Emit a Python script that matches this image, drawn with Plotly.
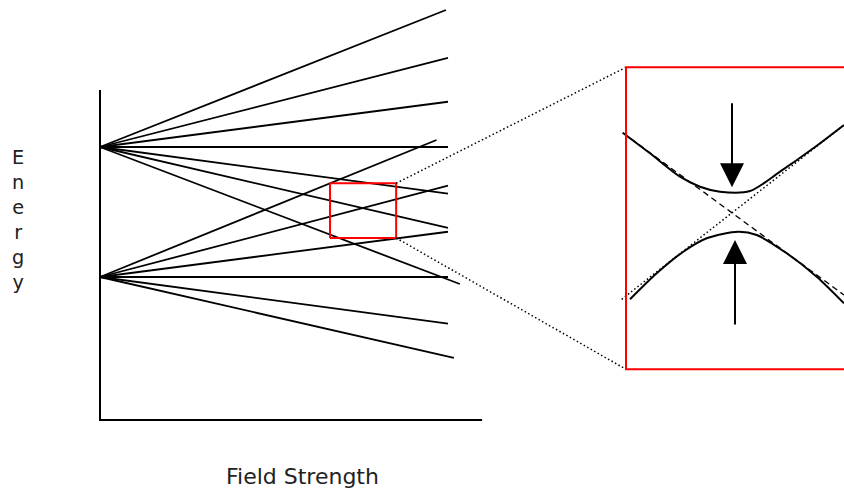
import plotly.graph_objects as go

# ---- Zeeman-style fan of levels (field strength vs energy) ----
upper_level = 1.0
lower_level = 0.0
upper_end_field = [0.994, 1.0, 1.0, 1.0, 1.0, 1.0, 1.034]
upper_end_energy = [2.054, 1.685, 1.348, 1.0, 0.641, 0.377, -0.054]
lower_end_field = [0.967, 1.0, 1.0, 1.0, 1.0, 1.017]
lower_end_energy = [1.054, 0.702, 0.348, 0.0, -0.359, -0.623]

field_axis_max = 1.098
energy_axis_min = -1.1
energy_axis_max = 1.438

# region highlighted for the close-up
zoom_field = [0.661, 0.851]
zoom_energy = [0.30, 0.721]

# ---- close-up of an avoided crossing ----
upper_branch_u = [-1.123, -0.85, -0.55, -0.35, -0.15, 0.15, 0.45, 0.783, 1.09]
upper_branch_v = [0.803, 0.597, 0.363, 0.263, 0.213, 0.22, 0.413, 0.647, 0.88]
lower_branch_u = [-1.05, -0.783, -0.517, -0.283, 0.033, 0.217, 0.517, 0.817, 1.09]
lower_branch_v = [-0.863, -0.603, -0.387, -0.253, -0.187, -0.22, -0.403, -0.637, -0.903]
falling_diabat_u = [-1.123, 1.09]
falling_diabat_v = [0.803, -0.82]
rising_diabat_u = [-1.133, 1.09]
rising_diabat_v = [-0.863, 0.88]
gap_top = [-0.03, 0.257, 1.113]      # u, arrow tip v, arrow tail v
gap_bottom = [0.0, -0.27, -1.13]
inset_frame_u = [-1.09, 1.2]
inset_frame_v = [-1.563, 1.457]

W, H = 844, 491
# main panel: pixel = origin + scale * value
X0, XS = 100.0, 348.0
Y0, YS = 277.0, 130.0
# inset panel
IX0, IXS = 735.0, 100.0
IY0, IYS = 213.0, 100.0
inset_u_range = [-1.2, 1.09]
inset_v_range = [-1.6, 1.5]


def inset_to_main(u, v):
    px = IX0 + IXS * u
    py = IY0 - IYS * v
    return (px - X0) / XS, (Y0 - py) / YS


BLACK = "#000000"
fig = go.Figure()

# fan lines
for f, e in zip(upper_end_field, upper_end_energy):
    fig.add_trace(go.Scatter(x=[0, f], y=[upper_level, e], mode="lines",
                             line=dict(color=BLACK, width=1.8)))
for f, e in zip(lower_end_field, lower_end_energy):
    fig.add_trace(go.Scatter(x=[0, f], y=[lower_level, e], mode="lines",
                             line=dict(color=BLACK, width=1.8)))

# hand-drawn axes
fig.add_trace(go.Scatter(x=[0, 0, field_axis_max],
                         y=[energy_axis_max, energy_axis_min, energy_axis_min],
                         mode="lines", line=dict(color=BLACK, width=2)))

# highlight box
fig.add_trace(go.Scatter(
    x=[zoom_field[0], zoom_field[1], zoom_field[1], zoom_field[0], zoom_field[0]],
    y=[zoom_energy[0], zoom_energy[0], zoom_energy[1], zoom_energy[1], zoom_energy[0]],
    mode="lines", line=dict(color="#ff0000", width=2)))

# connectors from the box to the close-up
tl = inset_to_main(inset_frame_u[0], inset_frame_v[1])
bl = inset_to_main(inset_frame_u[0], inset_frame_v[0])
fig.add_trace(go.Scatter(x=[zoom_field[1], tl[0]], y=[zoom_energy[1], tl[1]],
                         mode="lines", line=dict(color=BLACK, width=1.5, dash="1.5px,2.5px")))
fig.add_trace(go.Scatter(x=[zoom_field[1], bl[0]], y=[zoom_energy[0], bl[1]],
                         mode="lines", line=dict(color=BLACK, width=1.5, dash="1.5px,2.5px")))

# close-up traces
fig.add_trace(go.Scatter(x=falling_diabat_u, y=falling_diabat_v, mode="lines",
                         xaxis="x2", yaxis="y2",
                         line=dict(color=BLACK, width=1.3, dash="6px,4px")))
fig.add_trace(go.Scatter(x=rising_diabat_u, y=rising_diabat_v, mode="lines",
                         xaxis="x2", yaxis="y2",
                         line=dict(color=BLACK, width=1.5, dash="1.5px,2.5px")))
fig.add_trace(go.Scatter(x=upper_branch_u, y=upper_branch_v, mode="lines",
                         xaxis="x2", yaxis="y2",
                         line=dict(color=BLACK, width=2, shape="spline", smoothing=0.8)))
fig.add_trace(go.Scatter(x=lower_branch_u, y=lower_branch_v, mode="lines",
                         xaxis="x2", yaxis="y2",
                         line=dict(color=BLACK, width=2, shape="spline", smoothing=0.8)))

fig.add_shape(type="rect", xref="x2", yref="y2",
              x0=inset_frame_u[0], x1=inset_frame_u[1],
              y0=inset_frame_v[0], y1=inset_frame_v[1],
              line=dict(color="#ff0000", width=2))

for u, tip, tail in (gap_top, gap_bottom):
    fig.add_annotation(x=u, y=tip, ax=u, ay=tail, xref="x2", yref="y2",
                       axref="x2", ayref="y2", text="", showarrow=True,
                       arrowhead=2, arrowsize=2.4, arrowwidth=2, arrowcolor=BLACK)

# labels
fig.add_annotation(text="E<br>n<br>e<br>r<br>g<br>y", xref="paper", yref="paper",
                   x=18 / W, y=1 - 220 / H, xanchor="center", yanchor="middle",
                   showarrow=False, align="center",
                   font=dict(family="DejaVu Sans", size=19.3, color="#222222"))
fig.add_annotation(text="Field Strength", xref="paper", yref="paper",
                   x=302.5 / W, y=1 - 476 / H, xanchor="center", yanchor="middle",
                   showarrow=False,
                   font=dict(family="DejaVu Sans", size=22, color="#222222"))

fig.update_layout(
    width=W, height=H, margin=dict(l=0, r=0, t=0, b=0),
    paper_bgcolor="white", plot_bgcolor="rgba(0,0,0,0)", showlegend=False,
    xaxis=dict(range=[-X0 / XS, (W - X0) / XS], domain=[0, 1], visible=False),
    yaxis=dict(range=[(Y0 - H) / YS, Y0 / YS], domain=[0, 1], visible=False),
    xaxis2=dict(range=inset_u_range, visible=False, anchor="y2",
                domain=[(IX0 + IXS * inset_u_range[0]) / W,
                        (IX0 + IXS * inset_u_range[1]) / W]),
    yaxis2=dict(range=inset_v_range, visible=False, anchor="x2",
                domain=[1 - (IY0 - IYS * inset_v_range[0]) / H,
                        1 - (IY0 - IYS * inset_v_range[1]) / H]),
)

fig.write_html("out.html")
